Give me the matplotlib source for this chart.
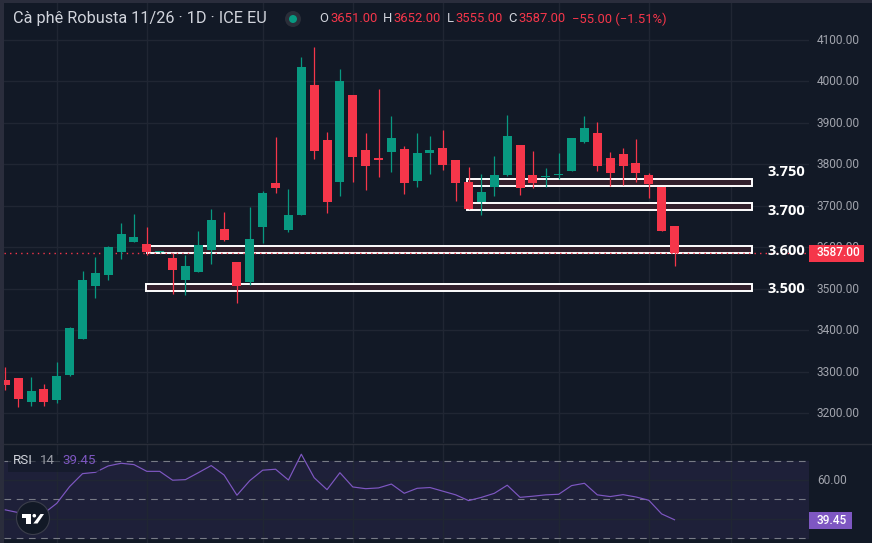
#!/usr/bin/env python3
import matplotlib
matplotlib.use('Agg')
import matplotlib.pyplot as plt
from matplotlib.patches import Rectangle, Circle, Polygon
from matplotlib.transforms import ScaledTranslation

# gia doc tu hinh, moi cay nen mot gia tri
opens = [3280, 3284, 3227, 3258, 3231, 3292, 3379, 3506, 3533, 3588, 3613, 3608, 3588,
         3574, 3521, 3540, 3593, 3644, 3564, 3516, 3649, 3755, 3642, 3678, 3991, 3859,
         3757, 3967, 3835, 3815, 3830, 3837, 3760, 3827, 3839, 3810, 3757, 3709, 3745,
         3774, 3847, 3774, 3770, 3774, 3784, 3854, 3876, 3815, 3825, 3803, 3774, 3745, 3651]
closes = [3268, 3234, 3253, 3227, 3289, 3405, 3521, 3538, 3601, 3632, 3625, 3588, 3590,
          3545, 3555, 3605, 3666, 3617, 3506, 3620, 3731, 3743, 3678, 4035, 3832, 3709,
          4001, 3818, 3796, 3810, 3864, 3755, 3827, 3835, 3798, 3755, 3692, 3733, 3774,
          3868, 3743, 3755, 3772, 3777, 3864, 3888, 3796, 3779, 3796, 3779, 3753, 3639, 3587]
highs = [3311, 3285, 3287, 3270, 3323, 3408, 3543, 3576, 3603, 3658, 3680, 3649, 3592,
         3586, 3581, 3639, 3692, 3685, 3564, 3697, 3736, 3866, 3741, 4059, 4083, 3878,
         4030, 3967, 3876, 3982, 3917, 3844, 3876, 3868, 3883, 3810, 3794, 3777, 3820,
         3919, 3847, 3832, 3791, 3827, 3864, 3917, 3902, 3830, 3839, 3861, 3779, 3745, 3652]
lows = [3255, 3214, 3217, 3217, 3224, 3289, 3379, 3477, 3521, 3572, 3613, 3581, 3586,
        3487, 3485, 3540, 3560, 3615, 3465, 3509, 3610, 3731, 3637, 3678, 3813, 3683,
        3724, 3757, 3738, 3769, 3782, 3728, 3745, 3777, 3786, 3712, 3692, 3678, 3724,
        3772, 3726, 3743, 3745, 3765, 3784, 3852, 3784, 3748, 3750, 3757, 3719, 3639, 3555]
rsi = [44.6, 43.2, 42.0, 42.8, 48.0, 56.7, 63.4, 64.1, 67.4, 68.8, 68.1, 64.6, 64.6,
       60.0, 60.3, 63.9, 67.6, 62.7, 52.2, 59.8, 65.2, 65.7, 60.1, 73.5, 61.3, 55.1,
       63.9, 56.5, 55.6, 56.0, 58.0, 53.2, 55.8, 56.2, 54.3, 52.4, 49.4, 51.1, 53.2,
       57.4, 51.1, 51.7, 52.4, 52.7, 57.2, 58.4, 52.4, 51.5, 52.5, 51.3, 49.6, 42.5, 39.45]

price_ticks = [3200, 3300, 3400, 3500, 3600, 3700, 3800, 3900, 4000, 4100]
grid_bars = [4, 11, 20, 27, 34, 43, 50, 56.4]
last_close = 3587

# cac vung da ve tay
zone_names = ['3.750', '3.700', '3.600', '3.500']
zone_label_y = [3782, 3688, 3591, 3500]
zone_tops = [3765, 3707, 3603, 3511]
zone_bottoms = [3748, 3691, 3586, 3494]
zone_starts = [35.87, 35.87, 11.0, 10.95]
zone_end = 58.0

UP = '#089981'
DOWN = '#f5364a'
BG = '#121926'
GRID = '#202633'
EDGE = '#2a2d3c'
TICK = '#a1a4ad'
FONT = 'Roboto'

plt.rcParams['font.family'] = FONT
W, H = 872, 543
fig = plt.figure(figsize=(W / 100, H / 100), dpi=100, facecolor=BG)

# truc gia
ax = fig.add_axes([4 / W, 1 - 443 / H, 804.5 / W, 440 / H], facecolor=BG)
ax.set_xlim(-0.10, 62.41)
ax.set_ylim(3128, 4189)
# rsi
ax2 = fig.add_axes([4 / W, 0, 804.5 / W, 99 / H], facecolor=BG)
ax2.set_xlim(-0.10, 62.41)
ax2.set_ylim(27.4, 78.8)

for a in (ax, ax2):
    for s in a.spines.values():
        s.set_visible(False)
    a.set_xticks(grid_bars)
    a.set_xticklabels([])
    a.tick_params(axis='x', length=0)
    a.tick_params(axis='y', length=0, labelright=True, labelleft=False, right=False, left=False,
                  pad=6, labelsize=8.6, labelcolor=TICK)
    a.grid(True, color=GRID, lw=1)
    a.set_axisbelow(True)

ax.set_yticks(price_ticks)
ax.set_yticklabels(['%.2f' % p for p in price_ticks])

# vung trang
for top, bot, start in zip(zone_tops, zone_bottoms, zone_starts):
    ax.add_patch(Rectangle((start, bot), zone_end - start, top - bot, facecolor='#32202c',
                           edgecolor='white', lw=1.4, zorder=2))

# gia cuoi
ax.axhline(last_close, color=DOWN, lw=1.0, ls=(0, (1, 3)), zorder=2.5)

# nen
for i, (o, c, h, l) in enumerate(zip(opens, closes, highs, lows)):
    col = UP if c >= o else DOWN
    ax.vlines(i, l, h, color=col, lw=0.9, zorder=3)
    ax.bar(i, abs(c - o), bottom=min(o, c), width=0.7, color=col, linewidth=0, zorder=3.5)

for name, ly in zip(zone_names, zone_label_y):
    ax.text(62.13, ly, name, color='white', fontweight='bold', fontsize=10.5, ha='right', va='center',
            zorder=6, family='Open Sans')

# rsi panel
ax2.set_yticks([40, 60])
ax2.set_yticklabels(['', '60.00'])
ax2.axhspan(30, 70, color='#1e2039', zorder=0.5)
for lev in (30, 50, 70):
    ax2.axhline(lev, color='#787b86', lw=0.8, ls=(0, (6, 5)), zorder=1.5)
ax2.plot(range(len(rsi)), rsi, color='#7e57c2', lw=0.85, zorder=3)

# nhan truc cao hon 1px
up_1px = ScaledTranslation(0, 1 / 100, fig.dpi_scale_trans)
for a in (ax, ax2):
    for lab in a.get_yticklabels():
        lab.set_transform(lab.get_transform() + up_1px)

# overlay theo pixel
ov = fig.add_axes([0, 0, 1, 1], zorder=10)
ov.set_xlim(0, W)
ov.set_ylim(H, 0)
ov.axis('off')
ov.patch.set_alpha(0)

ov.add_patch(Rectangle((0, 0), W, 3, facecolor=EDGE, lw=0))
ov.add_patch(Rectangle((0, 0), 4, H, facecolor=EDGE, lw=0))
ov.plot([4, W], [443.5, 443.5], color='#2a2e39', lw=1)

ov.add_patch(Rectangle((809, 245), 55, 16.7, facecolor=DOWN, lw=0))
ov.text(817, 253, '3587.00', color='white', fontsize=8.6, va='center', fontweight='medium')
ov.add_patch(Rectangle((809, 512), 43, 17, facecolor='#7e57c2', lw=0))
ov.text(817, 520, '39.45', color='white', fontsize=8.6, va='center', fontweight='medium')

ov.text(13, 18.5, 'Cà phê Robusta 11/26 · 1D · ICE EU', color='#d1d4dc', fontsize=11.7, va='center')
ov.add_patch(Circle((293, 19), 8, facecolor='#2a2e39', lw=0))
ov.add_patch(Circle((293, 19), 4, facecolor=UP, lw=0))
for x, s, col in [(319, 'O', '#d1d4dc'), (330, '3651.00', DOWN), (383, 'H', '#d1d4dc'), (393, '3652.00', DOWN),
                  (447, 'L', '#d1d4dc'), (455, '3555.00', DOWN), (508, 'C', '#d1d4dc'), (518, '3587.00', DOWN),
                  (572, '−55.00 (−1.51%)', DOWN)]:
    ov.text(x, 19, s, color=col, fontsize=9.4, va='center')

ov.add_patch(Rectangle((8, 455), 92, 17, facecolor=BG, alpha=0.6, lw=0))
ov.text(13, 460, 'RSI', color='#d1d4dc', fontsize=9.6, va='center')
ov.text(40, 460, '14', color='#9a9da6', fontsize=9.6, va='center')
ov.text(62, 460, '39.45', color='#7e57c2', fontsize=9.6, va='center')

# logo
ov.add_patch(Circle((33, 518), 16.5, facecolor=BG, edgecolor='#3b3e4b', lw=0.8))
ov.add_patch(Polygon([(22, 514), (30.7, 514), (30.7, 523.5), (26, 523.5), (26, 517.5), (22, 517.5)],
                     facecolor='white', lw=0))
ov.add_patch(Circle((34.3, 515.7), 1.8, facecolor='white', lw=0))
ov.add_patch(Polygon([(40.5, 514), (44, 514), (37.5, 523.5), (33.3, 523.5)], facecolor='white', lw=0))

fig.savefig('out.png', dpi=100, facecolor=BG)
